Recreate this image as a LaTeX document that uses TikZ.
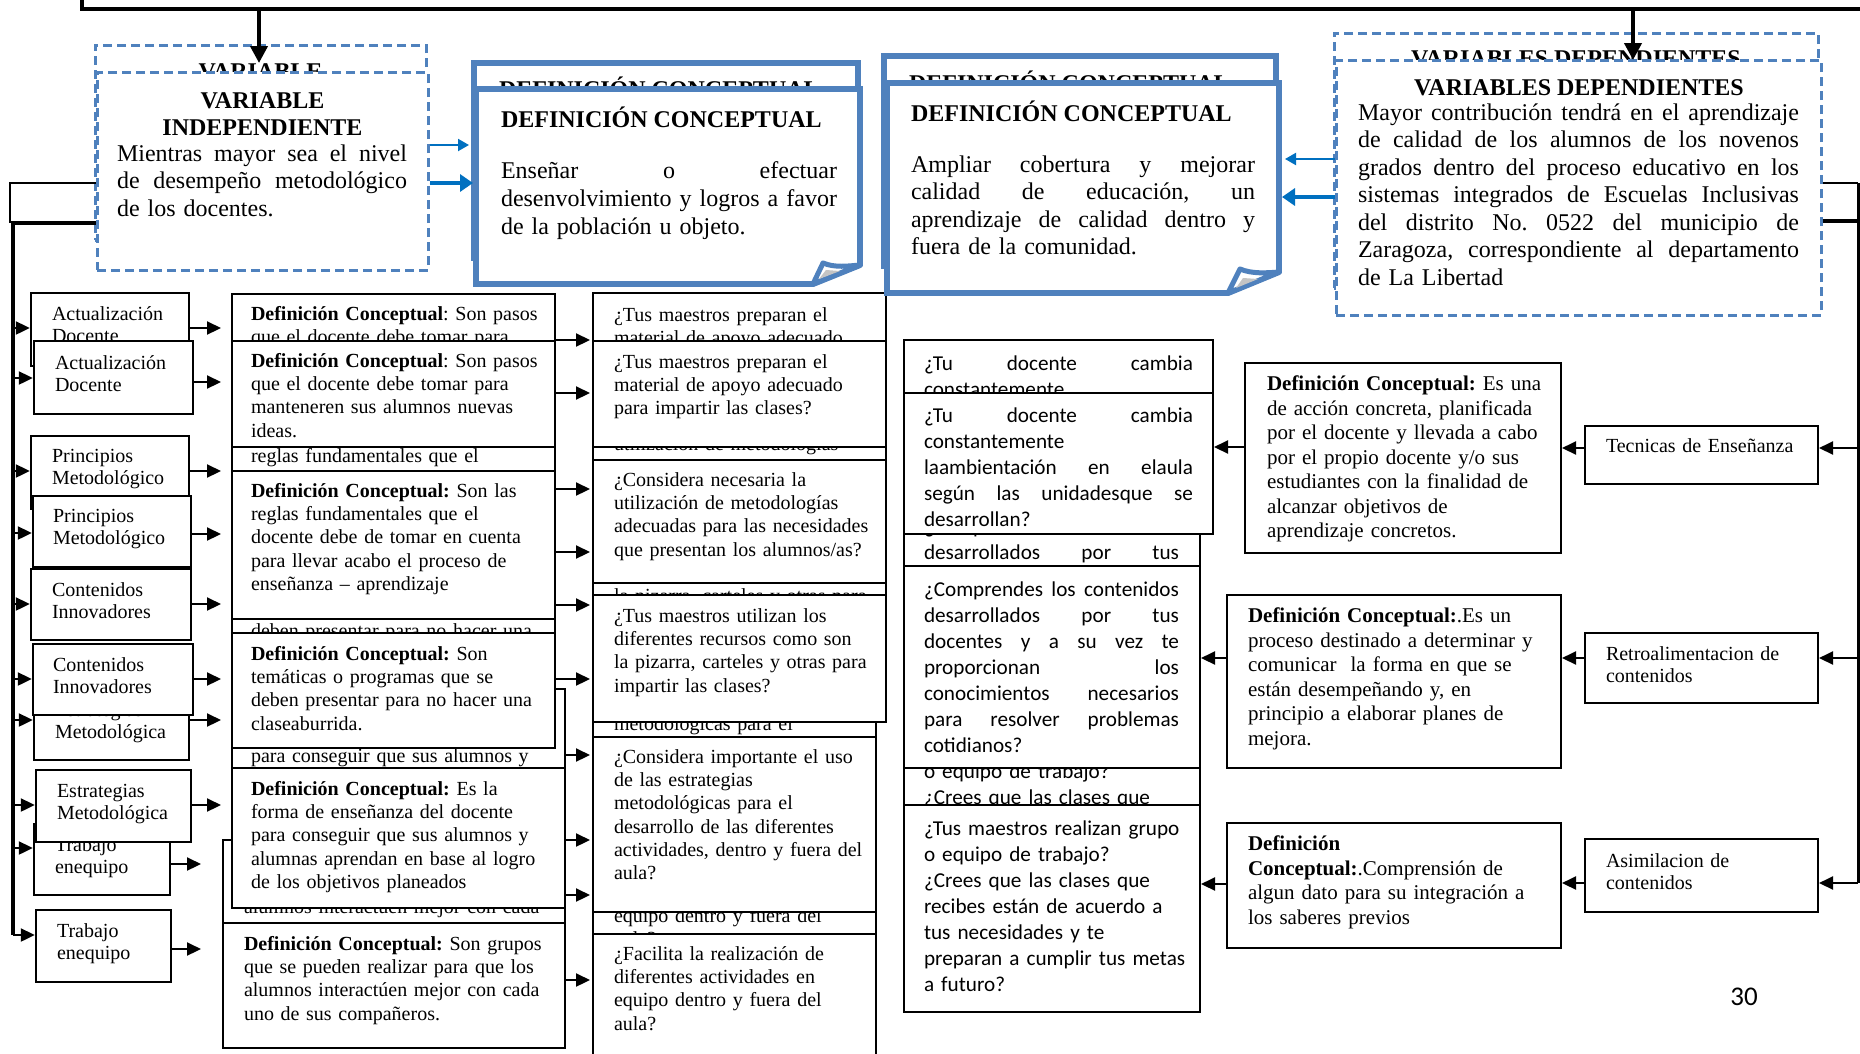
\documentclass[tikz,border=0pt]{standalone}
\usepackage{fontspec}
\setmainfont{Liberation Serif}
\newfontfamily\calib{Carlito}
\usetikzlibrary{arrows.meta,fit}
\definecolor{bxblue}{HTML}{4F81BD}
\definecolor{arblue}{HTML}{0070C0}
\definecolor{flapgray}{HTML}{C4C4C4}
\frenchspacing
\newcommand\myBig{\fontsize{24}{27.5}\selectfont\frenchspacing}
\newcommand\myDefA{\fontsize{24}{28}\selectfont\frenchspacing}
\newcommand\myDef{\fontsize{20}{23.3}\selectfont\frenchspacing}
\newcommand\myLft{\fontsize{20}{22.5}\selectfont\frenchspacing}
\newcommand\myCal{\calib\fontsize{21.2}{26}\selectfont\frenchspacing}
\newcommand\myRD{\fontsize{21}{24.5}\selectfont\frenchspacing}
\newcommand\myPg{\calib\fontsize{27}{30}\selectfont}
\newcommand\jl[2]{{\spaceskip=0pt\relax\xspaceskip=0pt\relax\makebox[#1pt][s]{\spaceskip=0pt\relax\xspaceskip=0pt\relax #2}}}
% texts
\newcommand\tAct{\strut Actualización\\Docente}
\newcommand\tPrin{\strut Principios\\Metodológico}
\newcommand\tCont{\strut Contenidos\\Innovadores}
\newcommand\tEstr{\strut Estrategias\\Metodológica}
\newcommand\tTrab{\strut Trabajo\\enequipo}
\newcommand\tDa{\strut\textbf{Definición Conceptual}: Son pasos\\que el docente debe tomar para\\manteneren sus alumnos nuevas\\ideas.}
\newcommand\tDb{\strut\textbf{Definición Conceptual:} Son las\\reglas fundamentales que el\\docente debe de tomar en cuenta\\para llevar acabo el proceso de\\enseñanza – aprendizaje}
\newcommand\tDc{\strut\textbf{Definición Conceptual:} Son\\temáticas o programas que se\\deben presentar para no hacer una\\claseaburrida.}
\newcommand\tDd{\strut\textbf{Definición Conceptual:} Es la\\forma de enseñanza del docente\\para conseguir que sus alumnos y\\alumnas aprendan en base al logro\\de los objetivos planeados}
\newcommand\tDe{\strut\textbf{Definición Conceptual:} Son grupos\\que se pueden realizar para que los\\alumnos interactúen mejor con cada\\uno de sus compañeros.}
\newcommand\tQa{\strut ¿Tus maestros preparan el\\material de apoyo adecuado\\para impartir las clases?}
\newcommand\tQb{\strut ¿Considera necesaria la\\utilización de metodologías\\adecuadas para las necesidades\\que presentan los alumnos/as?}
\newcommand\tQc{\strut ¿Tus maestros utilizan los\\diferentes recursos como son\\la pizarra, carteles y otras para\\impartir las clases?}
\newcommand\tQd{\strut ¿Considera importante el uso\\de las estrategias\\metodológicas para el\\desarrollo de las diferentes\\actividades, dentro y fuera del\\aula?}
\newcommand\tQe{\strut ¿Facilita la realización de\\diferentes actividades en\\equipo dentro y fuera del\\aula?}
\newcommand\tTa{\strut\jl{269}{¿Tu docente cambia}\\constantemente\\\jl{269}{laambientación en elaula}\\\jl{269}{según las unidadesque se}\\desarrollan?}
\newcommand\tTb{\strut\jl{255}{¿Comprendes los contenidos}\\\jl{255}{desarrollados por tus}\\\jl{255}{docentes y a su vez te}\\\jl{255}{proporcionan los}\\\jl{255}{conocimientos necesarios}\\\jl{255}{para resolver problemas}\\cotidianos?}
\newcommand\tTc{\strut ¿Tus maestros realizan grupo\\o equipo de trabajo?\\¿Crees que las clases que\\recibes están de acuerdo a\\tus necesidades y te\\preparan a cumplir tus metas\\a futuro?}
\tikzset{
  bb/.style={draw=black, line width=2pt, fill=white, inner sep=0pt},
  lbb/.style={bb, line width=2.4pt},
  dbb/.style={draw=bxblue, line width=3pt, dash pattern=on 9pt off 5pt, fill=white, inner sep=0pt},
  blb/.style={draw=bxblue, line width=6pt, fill=white, inner sep=0pt},
  tx/.style={inner sep=0pt, outer sep=0pt, anchor=north west, align=left, text width=#1},
  ttl/.style={inner sep=0pt, outer sep=0pt, font=\myBig\bfseries},
  arr/.style={-{Triangle[length=14pt,width=13pt]}, line width=2.2pt},
  tarr/.style={-{Triangle[length=17pt,width=17pt]}, line width=4pt},
  barrA/.style={-{Triangle[length=11pt,width=12pt]}, draw=arblue, fill=arblue, line width=2pt},
  barrB/.style={-{Triangle[length=13pt,width=17pt]}, draw=arblue, fill=arblue, line width=4.5pt},
  flap/.style={draw=bxblue, line width=5pt, line join=round, fill=white},
}
\begin{document}
\begin{tikzpicture}[x=1pt,y=-1pt]
\useasboundingbox (0,0) rectangle (1860,1053);
\fill[white] (0,0) rectangle (1860,1053);

% ================= GHOSTS =================
\node[dbb, fit={(95,45)(426,240)}] (gVI) {};
\node[ttl, align=center, text width=300pt, anchor=north] (gVIt) at (260.5,60) {\strut VARIABLE\\INDEPENDIENTE};
\node[blb, fit={(474,63)(858,258)}] (gDA) {};
\node[ttl, anchor=base west] (gDAt) at (499,97) {DEFINICIÓN CONCEPTUAL};
\node[blb, fit={(884,56)(1276,266)}] (gDB) {};
\node[ttl, anchor=base west] (gDBt) at (909,91) {DEFINICIÓN CONCEPTUAL};
\node[dbb, fit={(1334,33)(1818,288)}] (gVD) {};
\node[ttl, anchor=base] (gVDt) at (1576,66) {VARIABLES DEPENDIENTES};

\node[lbb, fit={(31,293)(189,366)}] (gAct) {};
\node[tx=200pt, font=\myLft] (gActt) at (52,304.6) {\tAct};
\node[lbb, fit={(31,436)(189,509)}] (gPrin) {};
\node[tx=200pt, font=\myLft] (gPrint) at (52,446.6) {\tPrin};
\node[lbb, fit={(31,569)(191,640)}] (gCont) {};
\node[tx=200pt, font=\myLft] (gContt) at (52,580.6) {\tCont};
\node[lbb, fit={(34,689)(189,760)}] (gEstr) {};
\node[tx=200pt, font=\myLft] (gEstrt) at (55,700.6) {\tEstr};
\node[lbb, fit={(34,824)(170,895)}] (gTrab) {};
\node[tx=200pt, font=\myLft] (gTrabt) at (55,835.6) {\tTrab};

\node[bb, fit={(232,294)(555,400)}] (gD1) {};
\node[tx=360pt, font=\myDef] (gD1t) at (251,304) {\tDa};
\node[bb, fit={(232,413)(555,561)}] (gD2) {};
\node[tx=360pt, font=\myDef] (gD2t) at (251,423) {\tDb};
\node[bb, fit={(232,564)(555,679)}] (gD3) {};
\node[tx=360pt, font=\myDef] (gD3t) at (251,575) {\tDc};
\node[bb, fit={(232,689)(565,829)}] (gD4) {};
\node[tx=360pt, font=\myDef] (gD4t) at (251,700) {\tDd};
\node[bb, fit={(223,840)(565,965)}] (gD5) {};
\node[tx=360pt, font=\myDef] (gD5t) at (244,851) {\tDe};

\node[bb, fit={(593,293)(886,399)}] (gQ1) {};
\node[tx=330pt, font=\myDef] (gQ1t) at (614,305) {\tQa};
\node[bb, fit={(593,400)(886,523)}] (gQ2) {};
\node[tx=330pt, font=\myDef] (gQ2t) at (614,410.7) {\tQb};
\node[bb, fit={(593,529)(886,656)}] (gQ3) {};
\node[tx=330pt, font=\myDef] (gQ3t) at (614,539.4) {\tQc};
\node[bb, fit={(593,657)(876,832)}] (gQ4) {};
\node[tx=330pt, font=\myDef] (gQ4t) at (614,667.4) {\tQd};
\node[bb, fit={(593,850)(876,1040)}] (gQ5) {};
\node[tx=330pt, font=\myDef] (gQ5t) at (614,859.4) {\tQe};

\node[bb, fit={(904,340)(1213,481)}] (gT1) {};
\node[tx=272pt, font=\myCal] (gT1t) at (924,351.8) {\tTa};
\node[bb, fit={(904,503)(1200,705)}] (gT2) {};
\node[tx=258pt, font=\myCal] (gT2t) at (924,514.8) {\tTb};
\node[bb, fit={(904,721)(1200,928)}] (gT3) {};
\node[tx=300pt, font=\myCal] (gT3t) at (924,733.8) {\tTc};

% ================= FRONTS =================
\node[dbb, fit={(97,72)(428,270)}] (fVI) {};
\node[ttl, align=center, text width=300pt, anchor=north] (fVIt) at (262.5,88.75) {\strut VARIABLE\\INDEPENDIENTE};
\node[tx=292pt, font=\myBig] (fVIb) at (117,142) {\strut\jl{290}{Mientras mayor sea el nivel}\\\jl{290}{de desempeño metodológico}\\de los docentes.};

\node[blb, fit={(476,89)(860,284)}] (fDA) {};
\fill[white] (813,280) -- (813,288.5) -- (864.5,288.5) -- (864.5,265) -- (856,265) -- (856,280) -- cycle;
\draw[bxblue, line width=6pt, line cap=round] (813,284) -- (860,265);
\draw[flap] (813,284) -- (823,263) .. controls (835,268) and (848,266) .. (860,265) -- cycle;
\fill[flapgray] (819,279) -- (826,270) -- (840,271) -- cycle;
\node[ttl, anchor=base west] (fDAt) at (501,127) {DEFINICIÓN CONCEPTUAL};
\node[tx=338pt, font=\myDefA] (fDAb) at (501,158.7) {\strut\jl{336}{Enseñar o efectuar}\\\jl{336}{desenvolvimiento y logros a favor}\\de la población u objeto.};

\node[blb, fit={(887,83)(1279,293)}] (fDB) {};
\fill[white] (1228,289) -- (1228,297.5) -- (1283.5,297.5) -- (1283.5,272) -- (1275,272) -- (1275,289) -- cycle;
\draw[bxblue, line width=6pt, line cap=round] (1228,293) -- (1279,272);
\draw[flap] (1228,293) -- (1240,269) .. controls (1252,274) and (1266,273) .. (1279,272) -- cycle;
\fill[flapgray] (1236,288) -- (1243,278) -- (1258,279) -- cycle;
\node[ttl, anchor=base west] (fDBt) at (911,121) {DEFINICIÓN CONCEPTUAL};
\node[tx=346pt, font=\myBig] (fDBb) at (911,153) {\strut\jl{344}{Ampliar cobertura y mejorar}\\\jl{344}{calidad de educación, un}\\\jl{344}{aprendizaje de calidad dentro y}\\fuera de la comunidad.};

\node[dbb, fit={(1336,60)(1821,315)}] (fVD) {};
\node[ttl, anchor=base] (fVDt) at (1579,95) {VARIABLES DEPENDIENTES};
\node[tx=443pt, font=\myBig] (fVDb) at (1358,101) {\strut\jl{441}{Mayor contribución tendrá en el aprendizaje}\\\jl{441}{de calidad de los alumnos de los novenos}\\\jl{441}{grados dentro del proceso educativo en los}\\\jl{441}{sistemas integrados de Escuelas Inclusivas}\\\jl{441}{del distrito No. 0522 del municipio de}\\\jl{441}{Zaragoza, correspondiente al departamento}\\de La Libertad};

\node[lbb, fit={(34,341)(193,414)}] (fAct) {};
\node[tx=200pt, font=\myLft] (fActt) at (55,353.6) {\tAct};
\node[lbb, fit={(33,496)(191,567)}] (fPrin) {};
\node[tx=200pt, font=\myLft] (fPrint) at (53,506.6) {\tPrin};
\node[lbb, fit={(33,644)(193,715)}] (fCont) {};
\node[tx=200pt, font=\myLft] (fContt) at (53,655.6) {\tCont};
\node[lbb, fit={(36,770)(191,842)}] (fEstr) {};
\node[tx=200pt, font=\myLft] (fEstrt) at (57,781.6) {\tEstr};
\node[lbb, fit={(36,910)(171,982)}] (fTrab) {};
\node[tx=200pt, font=\myLft] (fTrabt) at (57,921.6) {\tTrab};

\node[bb, fit={(232,341)(555,447)}] (fD1) {};
\node[tx=360pt, font=\myDef] (fD1t) at (251,351) {\tDa};
\node[bb, fit={(232,471)(555,619)}] (fD2) {};
\node[tx=360pt, font=\myDef] (fD2t) at (251,481) {\tDb};
\node[bb, fit={(232,633)(555,748)}] (fD3) {};
\node[tx=360pt, font=\myDef] (fD3t) at (251,644) {\tDc};
\node[bb, fit={(232,768)(565,908)}] (fD4) {};
\node[tx=360pt, font=\myDef] (fD4t) at (251,779) {\tDd};
\node[bb, fit={(223,923)(565,1048)}] (fD5) {};
\node[tx=360pt, font=\myDef] (fD5t) at (244,934) {\tDe};

\node[bb, fit={(593,341)(886,447)}] (fQ1) {};
\node[tx=330pt, font=\myDef] (fQ1t) at (614,352) {\tQa};
\node[bb, fit={(593,460)(886,583)}] (fQ2) {};
\node[tx=330pt, font=\myDef] (fQ2t) at (614,470) {\tQb};
\node[bb, fit={(593,595)(886,722)}] (fQ3) {};
\node[tx=330pt, font=\myDef] (fQ3t) at (614,606) {\tQc};
\node[bb, fit={(593,737)(876,912)}] (fQ4) {};
\node[tx=330pt, font=\myDef] (fQ4t) at (614,747) {\tQd};
\node[bb, fit={(593,934)(876,1060)}] (fQ5) {};
\node[tx=330pt, font=\myDef] (fQ5t) at (614,944) {\tQe};

\node[bb, fit={(904,393)(1213,534)}] (fT1) {};
\node[tx=272pt, font=\myCal] (fT1t) at (924,403.8) {\tTa};
\node[bb, fit={(904,566)(1200,768)}] (fT2) {};
\node[tx=258pt, font=\myCal] (fT2t) at (924,577.8) {\tTb};
\node[bb, fit={(904,805)(1200,1012)}] (fT3) {};
\node[tx=300pt, font=\myCal] (fT3t) at (924,816.8) {\tTc};

\node[bb, fit={(1245,363)(1561,553)}] (rD1) {};
\node[tx=330pt, font=\myRD] (rD1t) at (1267,373.5) {\strut\textbf{Definición Conceptual:} Es una\\de acción concreta, planificada\\por el docente y llevada a cabo\\por el propio docente y/o sus\\estudiantes con la finalidad de\\alcanzar objetivos de\\aprendizaje concretos.};
\node[bb, fit={(1227,595)(1561,768)}] (rD2) {};
\node[tx=330pt, font=\myRD] (rD2t) at (1248,605.5) {\strut\textbf{Definición Conceptual:}.Es un\\proceso destinado a determinar y\\comunicar\ \ la forma en que se\\están desempeñando y, en\\principio a elaborar planes de\\mejora.};
\node[bb, fit={(1227,823)(1561,948)}] (rD3) {};
\node[tx=330pt, font=\myRD] (rD3t) at (1248,833.5) {\strut\textbf{Definición}\\\textbf{Conceptual:}.Comprensión de\\algun dato para su integración a\\los saberes previos};

\node[bb, fit={(1585,426)(1818,484)}] (rB1) {};
\node[tx=220pt, font=\myLft] (rB1t) at (1606,436.6) {\strut Tecnicas de Enseñanza};
\node[bb, fit={(1585,633)(1818,703)}] (rB2) {};
\node[tx=220pt, font=\myLft] (rB2t) at (1606,644.6) {\strut Retroalimentacion de\\contenidos};
\node[bb, fit={(1585,839)(1818,912)}] (rB3) {};
\node[tx=220pt, font=\myLft] (rB3t) at (1606,851.6) {\strut Asimilacion de\\contenidos};

\node[font=\myPg, inner sep=0pt] (pg) at (1744,997) {30};

% ================= CONNECTORS =================
\coordinate (tlA) at (82,-4);
\coordinate (tlB) at (82,9);
\coordinate (tlC) at (1864,9);
\draw[line width=3.5pt] (tlA) -- (tlB) -- (tlC);
\coordinate (tA1) at (259,9);  \coordinate (tA2) at (259,63);
\coordinate (tB1) at (1633,9); \coordinate (tB2) at (1633,60);
\draw[tarr] (tA1) -- (tA2);
\draw[tarr] (tB1) -- (tB2);

% left spine
\coordinate (lthin) at (10,183);
\coordinate (lsp) at (13,223);
\coordinate (lend) at (13,935);
\draw[line width=1.6pt] (fVI.west |- 0,183) -- (lthin) -- (10,223);
\draw[line width=4pt] (fVI.west |- 0,223) -- (lsp) -- (lend);
\foreach \n/\y in {gAct/328, fAct/378, gPrin/471, fPrin/533, gCont/604, fCont/679, gEstr/720, fEstr/805, gTrab/848, fTrab/935}
  \draw[arr] (lsp |- 0,\y) -- (\n.west |- 0,\y);

% left boxes -> definitions
\foreach \s/\t/\y/\sh in {gAct/gD1/328/10pt, fAct/fD1/382/10pt, gPrin/gD2/471/10pt, fPrin/fD2/534/10pt, gCont/gD3/604/10pt, fCont/fD3/679/10pt, gEstr/gD4/720/10pt, fEstr/fD4/805/10pt, gTrab/gD5/864/21pt, fTrab/fD5/949/21pt}
  \draw[arr, shorten >=\sh] (\s.east |- 0,\y) -- (\t.west |- 0,\y);

% definitions -> questions
\foreach \s/\y in {gD1/340, fD1/393, gD2/489, fD2/552, gD3/605, fD3/679, gD4/755, fD4/840, gD5/895, fD5/980}
  \draw[arr, shorten >=2pt] (\s.east |- 0,\y) -- (fQ1.west |- 0,\y);

% right side
\coordinate (rthin) at (1858,183);
\coordinate (rsp) at (1858,221);
\coordinate (rend) at (1858,883);
\draw[line width=1.6pt] (fVD.east |- 0,183) -- (rthin);
\draw[line width=3.5pt] (fVD.east |- 0,221) -- (rsp);
\draw[line width=3pt] (rthin) -- (rend);
\draw[arr] (rsp |- 0,448) -- (rB1.east |- 0,448);
\draw[arr] (rsp |- 0,658) -- (rB2.east |- 0,658);
\draw[arr] (rend) -- (rB3.east |- 0,883);
\draw[arr] (rB1.west |- 0,448) -- (rD1.east |- 0,448);
\draw[arr] (rB2.west |- 0,658) -- (rD2.east |- 0,658);
\draw[arr] (rB3.west |- 0,883) -- (rD3.east |- 0,883);
\draw[arr] (rD1.west |- 0,447) -- (fT1.east |- 0,447);
\draw[arr] (rD2.west |- 0,658) -- (fT2.east |- 0,658);
\draw[arr] (rD3.west |- 0,884) -- (fT3.east |- 0,884);

% blue arrows
\draw[barrA, shorten >=4pt] (fVI.east |- 0,145) -- (fDA.west |- 0,145);
\draw[barrB] (fVI.east |- 0,183) -- (fDA.west |- 0,183);
\draw[barrA, shorten >=3pt] (fVD.west |- 0,159) -- (fDB.east |- 0,159);
\draw[barrB] (fVD.west |- 0,197) -- (fDB.east |- 0,197);
\end{tikzpicture}
\end{document}
